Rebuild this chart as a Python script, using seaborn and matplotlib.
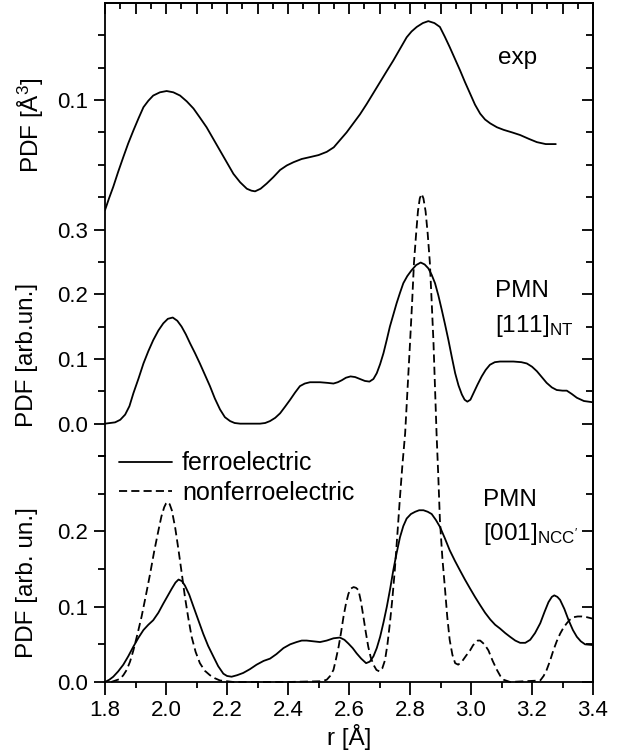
import numpy as np
import matplotlib
matplotlib.use("Agg")
import matplotlib.pyplot as plt
import seaborn as sns
from matplotlib.ticker import FixedLocator, MultipleLocator

# ---------------- data ----------------
exp_r = [1.800, 1.813, 1.827, 1.843, 1.860, 1.876, 1.893, 1.910, 1.926, 1.942,
         1.958, 1.980, 2.002, 2.024, 2.046, 2.068, 2.090, 2.111, 2.133, 2.155,
         2.177, 2.199, 2.221, 2.243, 2.265, 2.280, 2.292, 2.310, 2.330, 2.352,
         2.374, 2.396, 2.418, 2.445, 2.473, 2.500, 2.527, 2.550, 2.570, 2.592,
         2.614, 2.636, 2.658, 2.680, 2.702, 2.724, 2.745, 2.767, 2.789, 2.805,
         2.822, 2.842, 2.860, 2.880, 2.898, 2.914, 2.930, 2.947, 2.964, 2.980,
         2.997, 3.013, 3.030, 3.046, 3.063, 3.085, 3.107, 3.135, 3.161, 3.190,
         3.216, 3.245, 3.278]
exp_pdf = [-0.070, -0.052, -0.034, -0.011, 0.012, 0.033, 0.053, 0.072, 0.089, 0.099,
           0.107, 0.112, 0.114, 0.112, 0.107, 0.098, 0.087, 0.073, 0.058, 0.040,
           0.022, 0.004, -0.014, -0.027, -0.037, -0.040, -0.041, -0.037, -0.029, -0.019,
           -0.008, -0.001, 0.004, 0.009, 0.012, 0.015, 0.020, 0.027, 0.038, 0.050,
           0.064, 0.078, 0.094, 0.111, 0.128, 0.145, 0.161, 0.179, 0.197, 0.206,
           0.213, 0.219, 0.222, 0.219, 0.213, 0.198, 0.182, 0.164, 0.146, 0.128,
           0.110, 0.093, 0.079, 0.070, 0.064, 0.058, 0.054, 0.050, 0.046, 0.040,
           0.035, 0.032, 0.032]

nt_r = [1.800, 1.833, 1.850, 1.866, 1.880, 1.893, 1.910, 1.926, 1.942, 1.958,
        1.975, 1.991, 2.006, 2.022, 2.037, 2.051, 2.065, 2.079, 2.095, 2.111,
        2.128, 2.144, 2.160, 2.177, 2.193, 2.210, 2.225, 2.243, 2.308, 2.325,
        2.341, 2.358, 2.374, 2.390, 2.407, 2.423, 2.439, 2.455, 2.472, 2.505,
        2.530, 2.549, 2.563, 2.576, 2.590, 2.605, 2.620, 2.636, 2.652, 2.667,
        2.680, 2.691, 2.702, 2.713, 2.724, 2.734, 2.745, 2.756, 2.767, 2.778,
        2.791, 2.805, 2.820, 2.835, 2.848, 2.860, 2.871, 2.882, 2.893, 2.904,
        2.915, 2.926, 2.937, 2.948, 2.959, 2.970, 2.979, 2.988, 2.998, 3.008,
        3.021, 3.035, 3.048, 3.062, 3.078, 3.095, 3.139, 3.165, 3.183, 3.200,
        3.216, 3.232, 3.248, 3.265, 3.281, 3.300, 3.314, 3.330, 3.347, 3.370,
        3.400]
nt_pdf = [0.000, 0.002, 0.006, 0.014, 0.027, 0.047, 0.070, 0.093, 0.112, 0.129,
          0.144, 0.155, 0.162, 0.164, 0.159, 0.150, 0.138, 0.124, 0.109, 0.093,
          0.075, 0.058, 0.039, 0.022, 0.010, 0.004, 0.001, 0.000, 0.000, 0.001,
          0.004, 0.009, 0.016, 0.026, 0.037, 0.048, 0.058, 0.062, 0.064, 0.064,
          0.063, 0.062, 0.064, 0.067, 0.071, 0.073, 0.072, 0.069, 0.066, 0.065,
          0.069, 0.078, 0.092, 0.109, 0.130, 0.150, 0.168, 0.186, 0.202, 0.217,
          0.228, 0.237, 0.245, 0.249, 0.246, 0.240, 0.230, 0.217, 0.198, 0.176,
          0.153, 0.129, 0.103, 0.078, 0.059, 0.045, 0.037, 0.034, 0.037, 0.047,
          0.060, 0.073, 0.083, 0.091, 0.095, 0.096, 0.096, 0.095, 0.093, 0.088,
          0.081, 0.072, 0.063, 0.056, 0.052, 0.051, 0.051, 0.046, 0.040, 0.035,
          0.033]

ferro_r = [1.800, 1.814, 1.827, 1.843, 1.860, 1.876, 1.893, 1.910, 1.926, 1.942,
           1.958, 1.975, 1.991, 2.005, 2.019, 2.031, 2.041, 2.052, 2.062, 2.076,
           2.090, 2.106, 2.122, 2.138, 2.155, 2.171, 2.188, 2.200, 2.215, 2.233,
           2.253, 2.275, 2.297, 2.320, 2.341, 2.362, 2.385, 2.407, 2.428, 2.445,
           2.461, 2.483, 2.505, 2.527, 2.549, 2.570, 2.585, 2.598, 2.612, 2.625,
           2.640, 2.656, 2.668, 2.680, 2.691, 2.702, 2.713, 2.724, 2.735, 2.745,
           2.756, 2.767, 2.778, 2.789, 2.803, 2.817, 2.830, 2.844, 2.858, 2.871,
           2.885, 2.898, 2.914, 2.930, 2.947, 2.964, 2.980, 2.997, 3.013, 3.030,
           3.046, 3.063, 3.079, 3.095, 3.112, 3.128, 3.145, 3.161, 3.178, 3.194,
           3.210, 3.227, 3.241, 3.254, 3.265, 3.273, 3.283, 3.292, 3.306, 3.320,
           3.334, 3.347, 3.360, 3.374, 3.400]
ferro_pdf = [0.000, 0.003, 0.007, 0.014, 0.023, 0.034, 0.047, 0.059, 0.069, 0.076,
             0.082, 0.092, 0.104, 0.114, 0.124, 0.132, 0.136, 0.134, 0.128, 0.116,
             0.100, 0.082, 0.064, 0.048, 0.034, 0.021, 0.011, 0.008, 0.007, 0.009,
             0.012, 0.017, 0.023, 0.028, 0.031, 0.037, 0.045, 0.050, 0.053, 0.055,
             0.055, 0.054, 0.053, 0.055, 0.058, 0.059, 0.056, 0.051, 0.045, 0.038,
             0.031, 0.025, 0.027, 0.034, 0.045, 0.060, 0.079, 0.100, 0.124, 0.148,
             0.171, 0.192, 0.207, 0.217, 0.223, 0.226, 0.228, 0.228, 0.226, 0.223,
             0.215, 0.206, 0.191, 0.175, 0.161, 0.148, 0.136, 0.124, 0.113, 0.102,
             0.092, 0.083, 0.076, 0.071, 0.065, 0.060, 0.055, 0.052, 0.052, 0.056,
             0.065, 0.078, 0.093, 0.106, 0.113, 0.115, 0.113, 0.109, 0.097, 0.082,
             0.069, 0.060, 0.054, 0.050, 0.049]

nonferro_r = [1.820, 1.849, 1.860, 1.871, 1.882, 1.893, 1.906, 1.920, 1.934, 1.948,
              1.961, 1.975, 1.985, 1.994, 2.000, 2.005, 2.012, 2.019, 2.030, 2.041,
              2.052, 2.062, 2.073, 2.084, 2.097, 2.111, 2.127, 2.144, 2.160, 2.177,
              2.200, 2.221, 2.400, 2.510, 2.527, 2.538, 2.549, 2.557, 2.566, 2.574,
              2.582, 2.590, 2.598, 2.606, 2.615, 2.623, 2.631, 2.639, 2.647, 2.655,
              2.663, 2.671, 2.680, 2.690, 2.700, 2.709, 2.718, 2.726, 2.734, 2.742,
              2.750, 2.758, 2.767, 2.775, 2.784, 2.792, 2.800, 2.807, 2.813, 2.820,
              2.826, 2.832, 2.838, 2.844, 2.851, 2.858, 2.865, 2.871, 2.877, 2.882,
              2.887, 2.893, 2.898, 2.906, 2.915, 2.922, 2.930, 2.939, 2.948, 2.958,
              2.970, 2.984, 2.997, 3.007, 3.015, 3.022, 3.030, 3.044, 3.057, 3.071,
              3.085, 3.096, 3.107, 3.128, 3.227, 3.238, 3.248, 3.259, 3.270, 3.281,
              3.292, 3.303, 3.314, 3.325, 3.336, 3.350, 3.363, 3.380, 3.400]
nonferro_pdf = [0.000, 0.004, 0.009, 0.016, 0.027, 0.042, 0.063, 0.087, 0.115, 0.144,
                0.173, 0.201, 0.220, 0.232, 0.237, 0.239, 0.236, 0.228, 0.205, 0.175,
                0.143, 0.113, 0.085, 0.060, 0.040, 0.025, 0.015, 0.009, 0.005, 0.002,
                0.001, 0.000, 0.000, 0.001, 0.003, 0.008, 0.016, 0.030, 0.047, 0.066,
                0.087, 0.104, 0.117, 0.124, 0.126, 0.125, 0.122, 0.107, 0.087, 0.066,
                0.047, 0.033, 0.023, 0.016, 0.014, 0.018, 0.029, 0.050, 0.078, 0.110,
                0.148, 0.193, 0.245, 0.288, 0.330, 0.390, 0.450, 0.505, 0.557, 0.595,
                0.625, 0.642, 0.648, 0.642, 0.625, 0.595, 0.557, 0.505, 0.450, 0.390,
                0.330, 0.270, 0.215, 0.165, 0.122, 0.087, 0.056, 0.036, 0.025, 0.023,
                0.027, 0.035, 0.042, 0.049, 0.052, 0.055, 0.055, 0.050, 0.042, 0.028,
                0.016, 0.008, 0.003, 0.000, 0.002, 0.008, 0.016, 0.028, 0.042, 0.054,
                0.064, 0.072, 0.078, 0.083, 0.086, 0.087, 0.087, 0.086, 0.084]

x_tick_values = [1.8, 2.0, 2.2, 2.4, 2.6, 2.8, 3.0, 3.2, 3.4]
x_tick_labels = ["1.8", "2.0", "2.2", "2.4", "2.6", "2.8", "3.0", "3.2", "3.4"]
top_tick_values = [0.0, 0.1, 0.2, 0.3, 0.5]
top_tick_labels = ["0.0", "0.1", "0.2", "0.3", "0.1"]
top_minor_values = [-0.05, 0.05, 0.15, 0.25, 0.35, 0.40, 0.45, 0.55, 0.60]
bot_tick_values = [0.0, 0.1, 0.2]
bot_tick_labels = ["0.0", "0.1", "0.2"]
bot_minor_values = [0.05, 0.15, 0.25, 0.30]

EXP_OFFSET = 0.4

# ---------------- style ----------------
sns.set_style("ticks")
plt.rcParams["font.family"] = ["Liberation Sans", "DejaVu Sans"]
plt.rcParams["mathtext.fontset"] = "custom"
plt.rcParams["mathtext.rm"] = "Liberation Sans"
plt.rcParams["mathtext.default"] = "regular"
plt.rcParams["axes.linewidth"] = 1.3
for key in ("text.color", "axes.edgecolor", "axes.labelcolor",
            "xtick.color", "ytick.color"):
    plt.rcParams[key] = "black"

TICK_FS = 16
TEXT_FS = 17.5
LW = 1.3

fig = plt.figure(figsize=(6.27, 7.52), dpi=100)
fig.patch.set_facecolor("white")
ax_top = fig.add_axes([0.1675, 0.3936, 0.7783, 0.6024])
ax_bot = fig.add_axes([0.1675, 0.0931, 0.7783, 0.3005])
ax_bot.set_zorder(3)
ax_top.patch.set_visible(False)
ax_bot.patch.set_visible(False)

# lines
sns.lineplot(x=exp_r, y=np.array(exp_pdf) + EXP_OFFSET, ax=ax_top, color="black",
             lw=LW, estimator=None, sort=False)
sns.lineplot(x=nt_r, y=nt_pdf, ax=ax_top, color="black", lw=LW,
             estimator=None, sort=False)
sns.lineplot(x=ferro_r, y=ferro_pdf, ax=ax_bot, color="black", lw=LW,
             estimator=None, sort=False, label="ferroelectric")
sns.lineplot(x=nonferro_r, y=nonferro_pdf, ax=ax_bot, color="black", lw=LW,
             linestyle=(0, (4.5, 2.3)), estimator=None, sort=False,
             clip_on=False, label="nonferroelectric")

for ax in (ax_top, ax_bot):
    ax.set_xlim(1.8, 3.4)
    ax.set_xlabel("")
    ax.set_ylabel("")
    for s in ax.spines.values():
        s.set_linewidth(LW)
        s.set_visible(True)
        s.set_color("black")

ax_top.set_ylim(-0.05, 0.65)
ax_bot.set_ylim(0.0, 0.30)
ax_top.spines["bottom"].set_visible(False)
ax_bot.spines["top"].set_visible(False)

# y ticks
ax_top.set_yticks(top_tick_values, labels=top_tick_labels)
ax_top.yaxis.set_minor_locator(FixedLocator(top_minor_values))
ax_bot.set_yticks(bot_tick_values, labels=bot_tick_labels)
ax_bot.yaxis.set_minor_locator(FixedLocator(bot_minor_values))
for ax in (ax_top, ax_bot):
    ax.tick_params(axis="y", which="major", direction="out", length=8, width=LW,
                   labelsize=TICK_FS, pad=4, right=False)
    ax.tick_params(axis="y", which="minor", direction="out", length=5, width=LW,
                   right=False)

# x ticks
ax_top.tick_params(axis="x", which="both", bottom=False, top=False,
                   labelbottom=False)
ax_bot.set_xticks(x_tick_values, labels=x_tick_labels)
ax_bot.xaxis.set_minor_locator(MultipleLocator(0.1))
ax_bot.tick_params(axis="x", which="major", direction="out", length=9, width=LW,
                   labelsize=TICK_FS, pad=4, top=False)
ax_bot.tick_params(axis="x", which="minor", direction="out", length=4.5, width=LW,
                   top=False)

# mirrored inward ticks (right and top)
for ax, maj, mino in ((ax_top, top_tick_values, top_minor_values),
                      (ax_bot, bot_tick_values, bot_minor_values)):
    sec = ax.secondary_yaxis("right")
    sec.yaxis.set_major_locator(FixedLocator(maj))
    sec.yaxis.set_minor_locator(FixedLocator(mino))
    sec.tick_params(axis="y", which="major", direction="in", length=8, width=LW,
                    labelright=False)
    sec.tick_params(axis="y", which="minor", direction="in", length=5, width=LW,
                    labelright=False)
    sec.spines["right"].set_linewidth(LW)

sec_top = ax_top.secondary_xaxis("top")
sec_top.xaxis.set_major_locator(MultipleLocator(0.1))
sec_top.xaxis.set_minor_locator(MultipleLocator(0.05))
sec_top.tick_params(axis="x", which="major", direction="in", length=8, width=LW,
                    labeltop=False)
sec_top.tick_params(axis="x", which="minor", direction="in", length=4, width=LW,
                    labeltop=False)
sec_top.spines["top"].set_linewidth(LW)

# annotations
ax_top.text(3.09, 0.555, "exp", fontsize=TEXT_FS, ha="left", va="baseline")
ax_top.text(3.079, 0.195, "PMN", fontsize=TEXT_FS, ha="left", va="baseline")
ax_top.text(3.079, 0.142, "[111]$_{NT}$", fontsize=TEXT_FS, ha="left",
            va="baseline")
ax_bot.text(3.04, 0.234, "PMN", fontsize=TEXT_FS, ha="left", va="baseline")
ax_bot.text(3.04, 0.188, "[001]$_{NCC'}$", fontsize=TEXT_FS, ha="left",
            va="baseline")

# legend
leg = ax_bot.legend(loc="upper left", bbox_to_anchor=(0.0287, 1.02), frameon=False,
                    fontsize=18, handlelength=2.12, handletextpad=0.4,
                    labelspacing=0.22, borderpad=0.0, borderaxespad=0.0)

# axis labels
fig.text(0.050, 0.834, "PDF [Å$^{3}$]", rotation=90, ha="center", va="center",
         fontsize=TEXT_FS)
fig.text(0.043, 0.528, "PDF [arb.un.]", rotation=90, ha="center", va="center",
         fontsize=TEXT_FS)
fig.text(0.043, 0.2247, "PDF [arb. un.]", rotation=90, ha="center", va="center",
         fontsize=TEXT_FS)
ax_bot.set_xlabel("r [Å]", fontsize=TEXT_FS, labelpad=2)

fig.savefig("out.png", dpi=100)
